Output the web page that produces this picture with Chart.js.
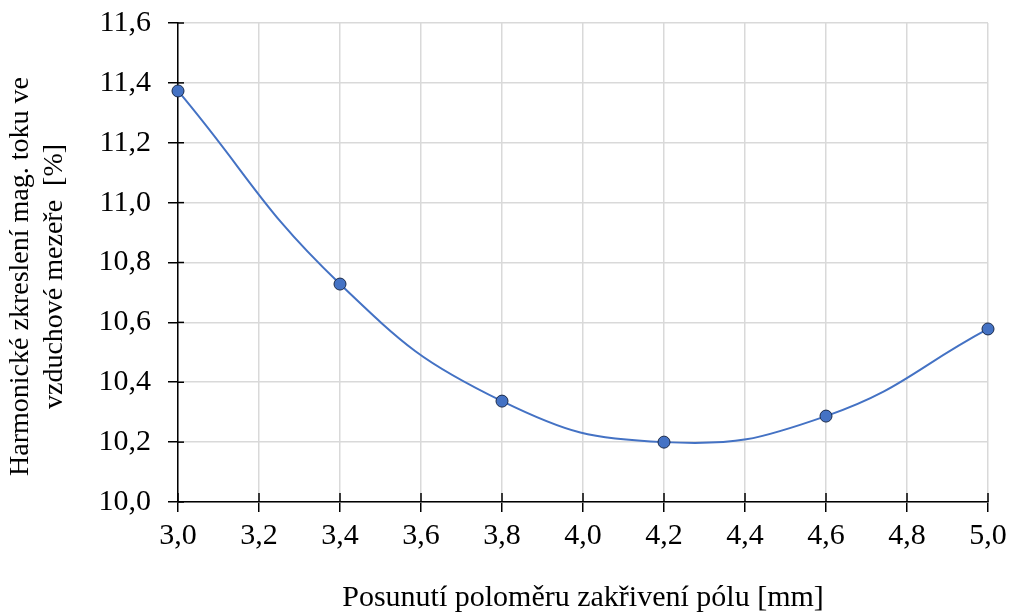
<!DOCTYPE html>
<html>
<head>
<meta charset="utf-8">
<script src="https://cdn.jsdelivr.net/npm/chart.js@4/dist/chart.umd.min.js"></script>
<style>
  html, body { margin: 0; padding: 0; background: #fff; }
  #wrap { width: 1011px; height: 616px; }
</style>
</head>
<body>
<div id="wrap"><canvas id="c"></canvas></div>
<script>
// values
const posunuti = [3.0, 3.4, 3.8, 4.2, 4.6, 5.0];
const zkresleni = [11.373, 10.728, 10.337, 10.200, 10.287, 10.578];

const xTitle = 'Posunutí poloměru zakřivení pólu [mm]';
// trailing spaces push the rotated title a bit down, like in the original
const yTitle = ['Harmonické zkreslení mag. toku ve    ', 'vzduchové mezeře  [%]    '];

const serif = '"Liberation Serif", "Times New Roman", serif';
const comma = v => Number(v).toFixed(1).replace('.', ',');

// excel-style ticks that cross the axis line
const crossTicks = {
    id: 'crossTicks',
    afterDatasetsDraw(chart) {
        const { ctx, chartArea, scales } = chart;
        ctx.save();
        ctx.strokeStyle = '#000';
        ctx.lineWidth = 1.5;
        scales.x.ticks.forEach(t => {
            const px = scales.x.getPixelForValue(t.value);
            ctx.beginPath();
            ctx.moveTo(px, chartArea.bottom);
            ctx.lineTo(px, chartArea.bottom - 9);
            ctx.stroke();
        });
        scales.y.ticks.forEach(t => {
            const py = scales.y.getPixelForValue(t.value);
            ctx.beginPath();
            ctx.moveTo(chartArea.left, py);
            ctx.lineTo(chartArea.left + 6, py);
            ctx.stroke();
        });
        ctx.restore();
    }
};

new Chart(document.getElementById('c'), {
    type: 'line',
    data: {
        datasets: [{
            data: posunuti.map((x, i) => ({ x, y: zkresleni[i] })),
            borderColor: '#4472C4',
            borderWidth: 2,
            backgroundColor: '#4472C4',
            pointBackgroundColor: '#4472C4',
            pointBorderColor: '#1a2a4a',
            pointBorderWidth: 1,
            pointRadius: 6,
            tension: 0.45,
            clip: false
        }]
    },
    options: {
        responsive: true,
        maintainAspectRatio: false,
        animation: false,
        layout: { padding: { top: 23, right: 23, left: 0, bottom: 0 } },
        plugins: {
            legend: { display: false },
            tooltip: { enabled: false }
        },
        scales: {
            x: {
                type: 'linear',
                min: 3.0,
                max: 5.0,
                afterFit: (s) => { s.height = 114; s.paddingLeft = 0; s.paddingRight = 0; },
                ticks: {
                    stepSize: 0.2,
                    color: '#000',
                    padding: 6,
                    font: { family: serif, size: 30 },
                    callback: comma,
                    maxRotation: 0
                },
                grid: { color: '#d9d9d9', lineWidth: 1.5, tickColor: '#000', tickLength: 10 },
                border: { color: '#000', width: 1.5 },
                title: {
                    display: true,
                    text: xTitle,
                    color: '#000',
                    font: { family: serif, size: 30 },
                    padding: { top: 30, bottom: 0 }
                }
            },
            y: {
                min: 10.0,
                max: 11.6,
                afterFit: (s) => { s.width = 178; s.paddingTop = 0; s.paddingBottom = 0; },
                ticks: {
                    stepSize: 0.2,
                    color: '#000',
                    padding: 17,
                    font: { family: serif, size: 30 },
                    callback: comma
                },
                grid: { color: '#d9d9d9', lineWidth: 1.5, tickColor: '#000', tickLength: 10 },
                border: { color: '#000', width: 1.5 },
                title: {
                    display: true,
                    text: yTitle,
                    color: '#000',
                    font: { family: serif, size: 28, lineHeight: 1.2 },
                    padding: { top: 4, bottom: 0 }
                }
            }
        }
    },
    plugins: [crossTicks]
});
</script>
</body>
</html>
